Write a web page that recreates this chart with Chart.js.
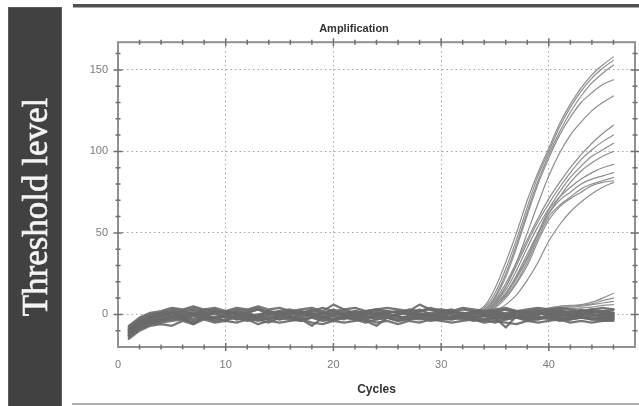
<!DOCTYPE html>
<html><head><meta charset="utf-8">
<script src="https://cdn.jsdelivr.net/npm/chart.js@4"></script>
<style>html,body{margin:0;padding:0;background:#fff;}canvas{display:block;}</style>
</head><body>
<canvas id="c" width="639" height="406"></canvas>
<script>
// ---- data ----
const cycles = [1,2,3,4,5,6,7,8,9,10,11,12,13,14,15,16,17,18,19,20,21,22,23,24,25,26,27,28,29,30,31,32,33,34,35,36,37,38,39,40,41,42,43,44,45,46];
const riseCycles = [32,33,34,35,36,37,38,39,40,41,42,43,44,45,46];
const lowCycles = [38,39,40,41,42,43,44,45,46];

// baseline (non-amplifying) wells
const noise1 = [-12,-6,-4,-2,-1,0,-1,1,0,-1, 2,0,-1,1,0,-2,0,1,-1,0, 1,-1,0,2,-1,0,1,-1,0,1, 0,-1,1,0,-1,0,1,-1,0,1, 0,-1,1,0,-1,0];
const noise2 = [-8,-3,0,1,3,2,4,2,3,1, 3,2,4,1,2,3,1,2,4,2, 3,1,2,3,2,1,3,2,4,2, 1,3,2,1,2,3,1,2,3,2, 3,1,2,3,2,3];
const noise3 = [-14,-9,-6,-5,-4,-3,-5,-2,-4,-3, -2,-4,-3,-5,-2,-3,-4,-2,-3,-4, -2,-3,-5,-3,-2,-4,-3,-2,-4,-3, -3,-2,-4,-3,-5,-3,-2,-4,-3,-2, -4,-3,-2,-3,-4,-3];
const noise4 = [-10,-4,-2,0,1,2,0,3,1,2, 0,1,3,0,2,1,0,2,1,3, 0,2,1,0,2,1,2,0,1,2, 3,0,1,2,0,1,2,1,0,2, 1,2,0,1,2,1];
const noise5 = [-13,-7,-5,-3,-2,-1,-3,0,-2,-1, 0,-2,-1,-3,0,-1,-2,0,-2,-1, -3,0,-1,-2,0,-1,-3,0,-1,-2, -1,0,-2,-1,0,-2,-1,0,-2,-1, 0,-2,-1,0,-2,-1];
const noise6 = [-11,-8,-5,-4,-2,-3,-1,-3,-2,-4, -1,-3,-2,-1,-3,-2,-4,-1,-2,-3, -1,-2,-3,-1,-2,-3,-1,-2,-3,-1, -2,-3,-2,-1,-3,-2,-1,-3,-2,-1, -3,-2,-1,-3,-2,-2];
const noise7 = [-7,-2,1,2,4,3,5,3,4,2, 4,3,5,3,4,2,3,4,2,6, 3,4,2,3,4,3,2,6,3,3, 2,4,3,2,3,4,2,3,4,3, 4,3,2,3,4,3];
const noise8 = [-15,-10,-7,-6,-7,-4,-6,-3,-5,-4, -5,-3,-6,-4,-5,-4,-3,-5,-6,-4, -5,-4,-3,-5,-4,-6,-4,-5,-3,-4, -5,-4,-3,-5,-4,-5,-6,-4,-5,-4, -3,-5,-4,-5,-4,-4];
const noise9 = [-9,-5,-1,0,1,-1,2,0,1,2, 0,1,-1,2,1,0,2,-1,1,0, 2,0,1,-1,1,2,0,1,-1,1, 2,0,1,1,2,0,1,2,0,1, 2,0,1,2,0,1];
const noise10 = [-12,-7,-4,-3,-1,-2,-6,-1,-2,0, -3,-1,-2,-3,-1,-2,-3,-7,-2,-3, -1,-2,-4,-7,-2,-1,-3,-2,-1,-2, -3,-1,-2,-3,-2,-8,-1,-2,-3,-1, -2,-3,-1,-2,-3,-2];
const noise11 = [-9,-4,-1,1,2,1,3,1,2,0, 2,1,3,2,0,2,1,3,1,2, 0,2,1,3,1,2,0,2,3,1, 2,1,0,2,1,3,2,1,2,0, 2,1,3,1,2,1];
const noise12 = [-13,-9,-6,-4,-3,-2,-4,-2,-3,-1, -3,-2,-4,-2,-3,-1,-3,-2,-4,-3, -2,-3,-1,-3,-2,-4,-2,-3,-2,-3, -1,-2,-3,-4,-2,-3,-2,-3,-1,-3, -2,-3,-2,-3,-2,-3];
const noise13 = [-11,-5,-3,-1,0,-2,0,-1,1,-2, -1,0,-2,0,-1,1,-1,0,-2,-1, 0,-1,-2,0,1,-2,-1,0,-1,0, -2,1,-1,0,-2,-1,0,-2,1,-1, -1,0,-2,-1,0,-1];
const noise14 = [-10,-6,-2,-1,1,0,1,-1,2,1, 1,-1,0,1,-1,1,2,0,0,1, -1,1,0,1,-1,0,1,3,0,-1, 1,0,2,-1,1,0,-1,1,1,0, 1,-1,0,2,1,0];

// amplifying wells (cycles 32..46)
const up1 = [0.5,1.5,5,16,32,50,70,87,102,117,129,139,147,153,158];
const up2 = [0,1,4,13,28,46,66,85,100,115,127,137,145,151,156];
const up3 = [0,1,3,11,25,43,63,82,98,112,124,134,142,148,153];
const up4 = [0,1,3,10,23,41,61,80,96,110,121,130,136,141,144];
const up5 = [0,0.5,2,7,17,32,50,68,85,99,110,118,125,130,134];
const mid1 = [0,1,3,9,19,32,46,59,71,81,90,98,105,111,116];
const mid2 = [0,0.5,2,8,17,30,44,57,68,78,87,95,101,106,110];
const mid3 = [0,0.5,2,7,15,27,41,54,65,75,84,91,97,101,105];
const mid4 = [0,0,1.5,6,13,24,37,50,62,72,81,88,93,97,100];
const low1 = [0,0.5,2,6,13,23,35,50,64,72,78,83,87,90,92];
const low2 = [0,0.5,2,5,12,22,34,49,62,70,75,80,83,85,87];
const low3 = [0,0,1.5,5,11,20,32,47,60,67,72,77,80,82,84];
const low4 = [0,0,1,4,10,19,30,45,58,66,71,75,79,81,82];
const late1 = [0,0,0.5,2,6,12,21,32,45,55,63,69,74,78,81];

// weakly rising wells (cycles 38..46)
const weak1 = [1,2,4,5,5.5,6,7.5,10,13];
const weak2 = [1,2,3.5,5,5,5.5,6.5,8.5,10];
const weak3 = [0.5,1.5,3,4,4.5,5,6,7,8];
const weak4 = [0.5,1,2,3,3.5,4,4.5,5.5,6];

const titleText = 'Amplification';
const xTitle = 'Cycles';
const sideLabel = 'Threshold level';

// ---- build datasets ----
const toPts = (xs, ys) => xs.map((x, i) => ({x, y: ys[i]}));
const datasets = [];
[noise1,noise2,noise3,noise4,noise5,noise6,noise7,noise8,noise9,noise10,noise11,noise12,noise13,noise14].forEach(s => datasets.push({
  data: toPts(cycles, s), borderColor: 'rgba(105,105,105,0.9)', borderWidth: 2.3, tension: 0
}));
[weak1, weak2, weak3, weak4].forEach(s => datasets.push({
  data: toPts(lowCycles, s), borderColor: '#909090', borderWidth: 1.2, tension: 0.3
}));
[up1,up2,up3,up4,up5,mid1,mid2,mid3,mid4,low1,low2,low3,low4,late1].forEach(s => datasets.push({
  data: toPts(riseCycles, s), borderColor: '#8e8e8e', borderWidth: 1.2, tension: 0.35
}));

const decor = {
  id: 'decor',
  beforeDraw(chart) {
    const ctx = chart.ctx;
    ctx.save();
    ctx.fillStyle = '#ffffff';
    ctx.fillRect(0, 0, chart.width, chart.height);
    // side panel
    ctx.fillStyle = '#414141';
    ctx.fillRect(8, 7, 54, 399);
    ctx.strokeStyle = '#5a5a5a';
    ctx.lineWidth = 1;
    ctx.strokeRect(8.5, 7.5, 53, 399);
    // top & bottom rules
    ctx.fillStyle = '#505050';
    ctx.fillRect(73, 4, 566, 3.5);
    ctx.fillStyle = '#b0b0b0';
    ctx.fillRect(72, 403, 567, 2);
    // rotated label
    ctx.translate(47, 207);
    ctx.rotate(-Math.PI / 2);
    ctx.fillStyle = '#f4f4f4';
    ctx.strokeStyle = '#f4f4f4';
    ctx.lineWidth = 0.6;
    ctx.font = '35px "Liberation Serif", "Times New Roman", serif';
    ctx.textAlign = 'center';
    ctx.textBaseline = 'alphabetic';
    ctx.fillText(sideLabel, 0, 0);
    ctx.strokeText(sideLabel, 0, 0);
    ctx.restore();
  },
  afterDraw(chart) {
    const ctx = chart.ctx;
    const a = chart.chartArea;
    const xs = chart.scales.x, ys = chart.scales.y;
    ctx.save();
    ctx.strokeStyle = '#919191';
    ctx.lineWidth = 2;
    ctx.strokeRect(a.left, a.top, a.right - a.left, a.bottom - a.top);
    ctx.strokeStyle = '#707070';
    ctx.lineWidth = 1.5;
    ctx.beginPath();
    for (let v = 2; v < xs.max; v += 2) {
      const p = xs.getPixelForValue(v);
      const L = (v % 10 === 0) ? 4 : 2.5;
      ctx.moveTo(p, a.bottom - L); ctx.lineTo(p, a.bottom + L);
      ctx.moveTo(p, a.top - L); ctx.lineTo(p, a.top + L);
    }
    for (let v = -10; v < ys.max; v += 10) {
      const p = ys.getPixelForValue(v);
      const L = (v % 50 === 0) ? 4.5 : 2.5;
      ctx.moveTo(a.left - L, p); ctx.lineTo(a.left + L, p);
      ctx.moveTo(a.right - L, p); ctx.lineTo(a.right + L, p);
    }
    ctx.stroke();
    ctx.restore();
  }
};

new Chart(document.getElementById('c'), {
  type: 'line',
  data: { datasets },
  options: {
    responsive: false,
    devicePixelRatio: 1,
    animation: false,
    events: [],
    layout: { padding: { left: 73, right: 4, top: 0, bottom: 0 } },
    elements: { point: { radius: 0 }, line: { borderCapStyle: 'round', borderJoinStyle: 'round' } },
    plugins: {
      legend: { display: false },
      tooltip: { enabled: false },
      title: {
        display: true, text: titleText, color: '#333',
        font: { family: '"Liberation Sans", Arial, sans-serif', size: 11, weight: 'bold' },
        padding: { top: 22, bottom: 7 }
      }
    },
    scales: {
      x: {
        type: 'linear', min: 0, max: 48,
        afterFit: s => { s.height = 59; },
        border: { display: false, dash: [1.5, 3] },
        grid: { color: '#a8a8a8', lineWidth: 1, drawTicks: false },
        ticks: { stepSize: 10, includeBounds: false, padding: 11, color: '#7a7a7a', maxRotation: 0,
                 font: { family: '"Liberation Sans", Arial, sans-serif', size: 11 } },
        title: { display: true, text: xTitle, color: '#333',
                 font: { family: '"Liberation Sans", Arial, sans-serif', size: 12, weight: 'bold' },
                 padding: { top: 0, bottom: 9 } }
      },
      y: {
        type: 'linear', min: -20, max: 167,
        afterFit: s => { s.width = 45; },
        border: { display: false, dash: [1.5, 3] },
        grid: { color: '#a8a8a8', lineWidth: 1, drawTicks: false },
        ticks: { stepSize: 50, includeBounds: false, padding: 10, color: '#7a7a7a',
                 font: { family: '"Liberation Sans", Arial, sans-serif', size: 11 } }
      }
    }
  },
  plugins: [decor]
});
</script>
</body></html>
